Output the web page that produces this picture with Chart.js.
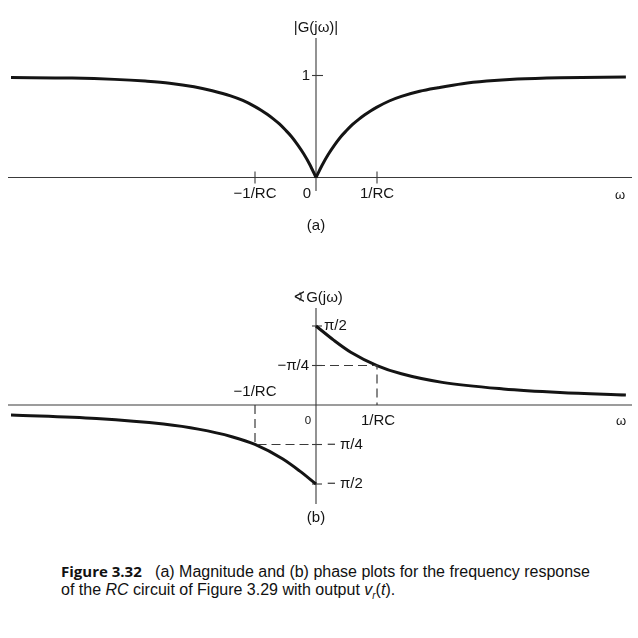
<!doctype html>
<html><head><meta charset="utf-8">
<title>Figure 3.32</title>
<script src="https://cdn.jsdelivr.net/npm/chart.js"></script>
<style>
  html, body { margin: 0; padding: 0; background: #fff; }
  .page { position: relative; width: 638px; height: 638px; background: #fff; overflow: hidden; }
  canvas { position: absolute; left: 0; }
  #magChart { top: 0; }
  #phaseChart { top: 240px; }
  .caption { position: absolute; left: 61px; top: 562px; font: 16px "Liberation Sans", Arial, sans-serif; line-height: 18px; color: #111; white-space: nowrap; }
  .caption b { font-family: "Open Sans", "DejaVu Sans", sans-serif; font-weight: 700; font-size: 15px; }
  .caption sub { font-size: 10px; }
</style>
</head><body>
<div class="page">
  <canvas id="magChart" width="638" height="240"></canvas>
  <canvas id="phaseChart" width="638" height="300"></canvas>
  <div class="caption"><b>Figure 3.32</b>&nbsp;&nbsp;&nbsp;(a) Magnitude and (b) phase plots for the frequency response<br>of the <i>RC</i> circuit of Figure 3.29 with output <i>v<sub>r</sub></i>(<i>t</i>).</div>
</div>
<script>
// values, omega in units of 1/RC
const magLeftW  = [-5.0, -4.0, -3.3, -2.8, -2.4, -2.0, -1.7, -1.4, -1.2, -1.0, -0.9, -0.8, -0.7, -0.6, -0.5, -0.4, -0.3, -0.2, -0.1, 0];
const magLeft   = [0.98, 0.975, 0.962, 0.945, 0.925, 0.89, 0.85, 0.8, 0.755, 0.695, 0.66, 0.62, 0.575, 0.525, 0.465, 0.4, 0.32, 0.23, 0.125, 0];
const magRightW = [0, 0.1, 0.2, 0.3, 0.4, 0.5, 0.6, 0.7, 0.8, 0.9, 1.0, 1.2, 1.4, 1.7, 2.0, 2.4, 2.8, 3.3, 4.0, 5.08];
const magRight  = [0, 0.12, 0.225, 0.315, 0.395, 0.46, 0.52, 0.57, 0.615, 0.655, 0.69, 0.75, 0.795, 0.845, 0.88, 0.92, 0.945, 0.965, 0.978, 0.986];

const phaseLeftW  = [-5.0, -3.6, -2.5, -1.93, -1.38, -1.0, -0.55, -0.27, 0];
const phaseLeft   = [-0.2, -0.27, -0.38, -0.48, -0.63, -0.785, -1.07, -1.31, -1.571];
const phaseRightW = [0, 0.29, 0.57, 1.0, 1.4, 2.07, 3.07, 4.0, 5.08];
const phaseRight  = [1.571, 1.29, 1.05, 0.785, 0.62, 0.45, 0.32, 0.25, 0.2];

// dashed guides at +-1/RC
const guideRightW = [0, 1, 1];
const guideRight  = [0.785, 0.785, 0];
const guideLeftW  = [-1, -1, 0];
const guideLeft   = [0, -0.785, -0.785];

const freqTicks  = [-1, 1];
const freqLabels = ['−1/RC', '1/RC'];
const magTicks   = [1];
const magLabels  = ['1'];
const phaseTicks  = [Math.PI / 2, Math.PI / 4, -Math.PI / 4, -Math.PI / 2];
const phaseLabels = ['π/2', '−π/4', '− π/4', '− π/2'];

const INK = '#141414';
const AXIS = '#3a3a3a';
const FONT = '"Liberation Sans", Arial, sans-serif';

const pts = (xs, ys) => xs.map((x, i) => ({ x, y: ys[i] }));

function curve(data) {
  return { data, borderColor: INK, borderWidth: 3, pointRadius: 0, fill: false,
           cubicInterpolationMode: 'monotone' };
}
function guide(data) {
  return { data, borderColor: AXIS, borderWidth: 1.2, borderDash: [9, 5], pointRadius: 0,
           fill: false, tension: 0 };
}

function text(ctx, s, x, y, align, size) {
  ctx.font = (size || 15) + 'px ' + FONT;
  ctx.textAlign = align || 'center';
  ctx.textBaseline = 'middle';
  ctx.fillStyle = INK;
  ctx.fillText(s, x, y);
}
function line(ctx, x1, y1, x2, y2) {
  ctx.beginPath();
  ctx.moveTo(x1, y1);
  ctx.lineTo(x2, y2);
  ctx.stroke();
}

// axes through the origin, ticks and labels
const magAxes = {
  id: 'magAxes',
  beforeDatasetsDraw(chart) {
    const { ctx, scales: { x, y } } = chart;
    const x0 = x.getPixelForValue(0), y0 = y.getPixelForValue(0);
    ctx.save();
    ctx.strokeStyle = AXIS; ctx.lineWidth = 1.1;
    line(ctx, 8, y0, 632, y0);
    line(ctx, x0, 38, x0, 191);
    freqTicks.forEach((v, i) => {
      const px = x.getPixelForValue(v);
      line(ctx, px, y0 - 6, px, y0 + 6);
      text(ctx, freqLabels[i], px, y0 + 16);
    });
    magTicks.forEach((v, i) => {
      const py = y.getPixelForValue(v);
      line(ctx, x0 - 4, py, x0 + 7, py);
      text(ctx, magLabels[i], x0 - 6, py, 'right');
    });
    text(ctx, '0', x0 - 9, y0 + 16);
    text(ctx, 'ω', 620, y0 + 18, 'center', 13);
    text(ctx, '|G(jω)|', x0, 28);
    text(ctx, '(a)', x0, 226);
    ctx.restore();
  }
};

const phaseAxes = {
  id: 'phaseAxes',
  beforeDatasetsDraw(chart) {
    const { ctx, scales: { x, y } } = chart;
    const x0 = x.getPixelForValue(0), y0 = y.getPixelForValue(0);
    ctx.save();
    ctx.strokeStyle = AXIS; ctx.lineWidth = 1.1;
    line(ctx, 8, y0, 632, y0);
    line(ctx, x0, 68, x0, 264);
    const px1 = x.getPixelForValue(freqTicks[1]);
    const pxm = x.getPixelForValue(freqTicks[0]);
    text(ctx, freqLabels[0], pxm, y0 - 13);
    text(ctx, freqLabels[1], px1 + 1, y0 + 16);
    text(ctx, '0', x0 - 8, y0 + 16, 'center', 11.5);
    phaseTicks.forEach((v, i) => {
      const py = y.getPixelForValue(v);
      line(ctx, x0 - 4, py, x0 + 6, py);
      if (i === 1) text(ctx, phaseLabels[i], x0 - 7, py, 'right');
      else text(ctx, phaseLabels[i], x0 + (i === 0 ? 8 : 11), py, 'left');
    });
    text(ctx, 'ω', 621, y0 + 16, 'center', 13);
    text(ctx, '∢G(jω)', x0 + 2, 58);
    text(ctx, '(b)', x0, 278);
    ctx.restore();
  }
};

const baseOptions = (ymin, ymax, pad) => ({
  responsive: false,
  animation: false,
  layout: { padding: pad },
  plugins: { legend: { display: false }, tooltip: { enabled: false } },
  scales: {
    x: { type: 'linear', min: -306 / 61, max: 314 / 61, display: false },
    y: { type: 'linear', min: ymin, max: ymax, display: false }
  }
});

Chart.defaults.font.family = FONT;

// magnitude plot: zero at y=177.5, 1 at y=75.5 (102 px per unit)
new Chart(document.getElementById('magChart'), {
  type: 'line',
  data: { datasets: [curve(pts(magLeftW, magLeft)), curve(pts(magRightW, magRight))] },
  options: baseOptions(-22.5 / 102, 157.5 / 102, { left: 10, right: 8, top: 20, bottom: 40 }),
  plugins: [magAxes]
});

// phase plot: chart area 20..280 in canvas, zero at 165, 1 rad = 50.3 px
new Chart(document.getElementById('phaseChart'), {
  type: 'line',
  data: { datasets: [
    guide(pts(guideRightW, guideRight)),
    guide(pts(guideLeftW, guideLeft)),
    curve(pts(phaseLeftW, phaseLeft)),
    curve(pts(phaseRightW, phaseRight))
  ] },
  options: baseOptions(-115 / 50.3, 145 / 50.3, { left: 10, right: 8, top: 20, bottom: 20 }),
  plugins: [phaseAxes]
});
</script>
</body></html>
